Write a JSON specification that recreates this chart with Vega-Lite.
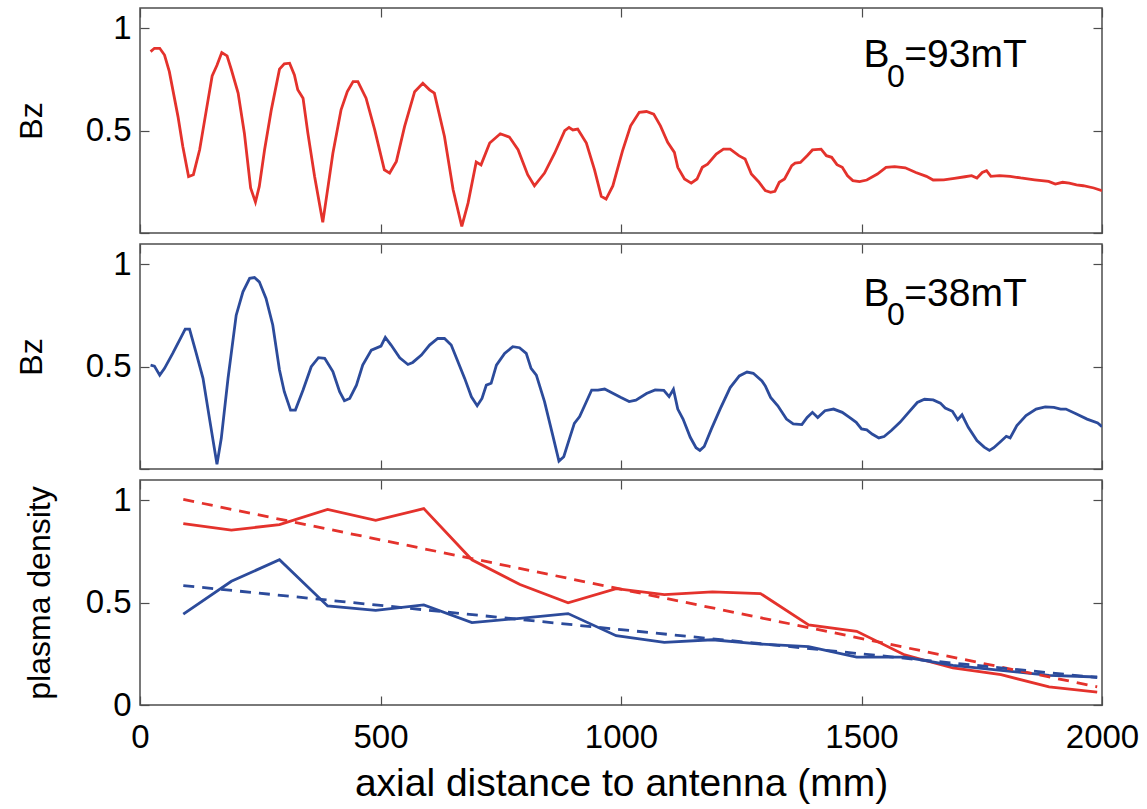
{
  "$schema": "https://vega.github.io/schema/vega-lite/v6.json",
  "background": "white",
  "padding": {"left": 14, "top": 6, "right": 0, "bottom": 0},
  "config": {
    "font": "Liberation Sans",
    "view": {"stroke": "#4d4d4d", "strokeWidth": 1.5},
    "axis": {
      "domain": false,
      "grid": false,
      "tickSize": -9,
      "tickColor": "#4d4d4d",
      "tickWidth": 1.2,
      "labelFont": "Liberation Sans",
      "labelFontSize": 33,
      "labelColor": "#000000",
      "labelPadding": 18,
      "labelFlush": false,
      "labelOverlap": false,
      "titleFont": "Liberation Sans",
      "titleFontWeight": "normal",
      "titleColor": "#000000"
    }
  },
  "datasets": {
    "b93": [
      {"x":22,"v":0.887},{"x":30,"v":0.903},{"x":41,"v":0.903},{"x":51,"v":0.87},{"x":61,"v":0.789},{"x":79,"v":0.569},{"x":89,"v":0.423},{"x":101,"v":0.276},{"x":111,"v":0.285},{"x":124,"v":0.407},{"x":138,"v":0.602},{"x":150,"v":0.768},{"x":160,"v":0.82},{"x":170,"v":0.882},{"x":181,"v":0.866},{"x":190,"v":0.798},{"x":204,"v":0.684},{"x":217,"v":0.488},{"x":230,"v":0.22},{"x":240,"v":0.151},{"x":248,"v":0.228},{"x":259,"v":0.407},{"x":273,"v":0.602},{"x":290,"v":0.801},{"x":300,"v":0.827},{"x":311,"v":0.83},{"x":321,"v":0.773},{"x":328,"v":0.7},{"x":339,"v":0.659},{"x":349,"v":0.488},{"x":363,"v":0.276},{"x":380,"v":0.052},{"x":391,"v":0.228},{"x":401,"v":0.39},{"x":418,"v":0.602},{"x":431,"v":0.691},{"x":443,"v":0.74},{"x":453,"v":0.74},{"x":470,"v":0.659},{"x":488,"v":0.504},{"x":508,"v":0.309},{"x":519,"v":0.293},{"x":533,"v":0.35},{"x":550,"v":0.52},{"x":571,"v":0.691},{"x":588,"v":0.732},{"x":602,"v":0.7},{"x":612,"v":0.684},{"x":633,"v":0.472},{"x":651,"v":0.211},{"x":669,"v":0.032},{"x":682,"v":0.146},{"x":699,"v":0.347},{"x":709,"v":0.333},{"x":727,"v":0.44},{"x":749,"v":0.485},{"x":768,"v":0.469},{"x":786,"v":0.407},{"x":806,"v":0.285},{"x":820,"v":0.231},{"x":841,"v":0.293},{"x":862,"v":0.39},{"x":883,"v":0.5},{"x":892,"v":0.516},{"x":900,"v":0.504},{"x":910,"v":0.508},{"x":928,"v":0.44},{"x":945,"v":0.309},{"x":959,"v":0.179},{"x":969,"v":0.166},{"x":983,"v":0.23},{"x":1003,"v":0.4},{"x":1020,"v":0.524},{"x":1038,"v":0.59},{"x":1053,"v":0.594},{"x":1068,"v":0.581},{"x":1082,"v":0.524},{"x":1097,"v":0.443},{"x":1111,"v":0.394},{"x":1118,"v":0.321},{"x":1132,"v":0.264},{"x":1146,"v":0.244},{"x":1158,"v":0.264},{"x":1169,"v":0.321},{"x":1180,"v":0.337},{"x":1198,"v":0.386},{"x":1213,"v":0.41},{"x":1227,"v":0.41},{"x":1245,"v":0.378},{"x":1258,"v":0.362},{"x":1271,"v":0.288},{"x":1286,"v":0.251},{"x":1300,"v":0.207},{"x":1311,"v":0.199},{"x":1320,"v":0.204},{"x":1329,"v":0.248},{"x":1340,"v":0.264},{"x":1355,"v":0.329},{"x":1362,"v":0.342},{"x":1373,"v":0.345},{"x":1387,"v":0.378},{"x":1398,"v":0.406},{"x":1416,"v":0.41},{"x":1427,"v":0.378},{"x":1438,"v":0.37},{"x":1449,"v":0.334},{"x":1460,"v":0.321},{"x":1471,"v":0.28},{"x":1482,"v":0.256},{"x":1496,"v":0.251},{"x":1511,"v":0.259},{"x":1533,"v":0.288},{"x":1551,"v":0.321},{"x":1569,"v":0.324},{"x":1591,"v":0.319},{"x":1613,"v":0.296},{"x":1635,"v":0.277},{"x":1649,"v":0.259},{"x":1671,"v":0.26},{"x":1693,"v":0.267},{"x":1715,"v":0.275},{"x":1729,"v":0.28},{"x":1740,"v":0.269},{"x":1751,"v":0.296},{"x":1760,"v":0.305},{"x":1769,"v":0.277},{"x":1787,"v":0.28},{"x":1809,"v":0.277},{"x":1831,"v":0.269},{"x":1860,"v":0.26},{"x":1889,"v":0.252},{"x":1903,"v":0.239},{"x":1918,"v":0.248},{"x":1932,"v":0.244},{"x":1947,"v":0.235},{"x":1961,"v":0.231},{"x":1983,"v":0.22},{"x":2000,"v":0.207}
    ],
    "b38": [
      {"x":22,"v":0.508},{"x":30,"v":0.503},{"x":41,"v":0.459},{"x":51,"v":0.492},{"x":68,"v":0.565},{"x":86,"v":0.647},{"x":94,"v":0.684},{"x":103,"v":0.684},{"x":117,"v":0.565},{"x":131,"v":0.443},{"x":145,"v":0.239},{"x":160,"v":0.023},{"x":169,"v":0.15},{"x":183,"v":0.443},{"x":200,"v":0.752},{"x":214,"v":0.866},{"x":228,"v":0.932},{"x":238,"v":0.936},{"x":248,"v":0.915},{"x":262,"v":0.834},{"x":276,"v":0.704},{"x":290,"v":0.484},{"x":300,"v":0.378},{"x":313,"v":0.288},{"x":323,"v":0.288},{"x":339,"v":0.386},{"x":356,"v":0.5},{"x":371,"v":0.544},{"x":384,"v":0.541},{"x":401,"v":0.476},{"x":415,"v":0.378},{"x":425,"v":0.334},{"x":436,"v":0.345},{"x":450,"v":0.41},{"x":463,"v":0.508},{"x":481,"v":0.581},{"x":501,"v":0.601},{"x":510,"v":0.643},{"x":522,"v":0.606},{"x":540,"v":0.544},{"x":557,"v":0.511},{"x":567,"v":0.521},{"x":585,"v":0.557},{"x":602,"v":0.606},{"x":619,"v":0.638},{"x":633,"v":0.638},{"x":647,"v":0.606},{"x":661,"v":0.524},{"x":675,"v":0.443},{"x":689,"v":0.353},{"x":701,"v":0.309},{"x":711,"v":0.345},{"x":720,"v":0.41},{"x":730,"v":0.419},{"x":741,"v":0.508},{"x":758,"v":0.565},{"x":775,"v":0.598},{"x":789,"v":0.593},{"x":803,"v":0.565},{"x":813,"v":0.492},{"x":824,"v":0.459},{"x":841,"v":0.329},{"x":858,"v":0.166},{"x":871,"v":0.039},{"x":881,"v":0.06},{"x":893,"v":0.15},{"x":903,"v":0.223},{"x":914,"v":0.256},{"x":928,"v":0.329},{"x":939,"v":0.386},{"x":952,"v":0.386},{"x":966,"v":0.391},{"x":983,"v":0.37},{"x":1000,"v":0.349},{"x":1017,"v":0.33},{"x":1031,"v":0.337},{"x":1053,"v":0.369},{"x":1071,"v":0.387},{"x":1089,"v":0.385},{"x":1100,"v":0.354},{"x":1109,"v":0.39},{"x":1118,"v":0.293},{"x":1129,"v":0.244},{"x":1144,"v":0.155},{"x":1156,"v":0.104},{"x":1164,"v":0.091},{"x":1173,"v":0.11},{"x":1188,"v":0.196},{"x":1206,"v":0.293},{"x":1227,"v":0.398},{"x":1246,"v":0.455},{"x":1262,"v":0.474},{"x":1275,"v":0.468},{"x":1293,"v":0.43},{"x":1300,"v":0.406},{"x":1311,"v":0.35},{"x":1326,"v":0.309},{"x":1344,"v":0.244},{"x":1358,"v":0.22},{"x":1376,"v":0.217},{"x":1387,"v":0.252},{"x":1398,"v":0.277},{"x":1409,"v":0.252},{"x":1424,"v":0.285},{"x":1442,"v":0.293},{"x":1460,"v":0.277},{"x":1475,"v":0.252},{"x":1489,"v":0.228},{"x":1500,"v":0.196},{"x":1511,"v":0.191},{"x":1522,"v":0.171},{"x":1536,"v":0.152},{"x":1547,"v":0.159},{"x":1562,"v":0.188},{"x":1580,"v":0.228},{"x":1598,"v":0.277},{"x":1616,"v":0.325},{"x":1631,"v":0.341},{"x":1649,"v":0.338},{"x":1664,"v":0.322},{"x":1674,"v":0.298},{"x":1689,"v":0.282},{"x":1700,"v":0.241},{"x":1709,"v":0.265},{"x":1722,"v":0.204},{"x":1740,"v":0.139},{"x":1755,"v":0.107},{"x":1766,"v":0.091},{"x":1775,"v":0.104},{"x":1790,"v":0.136},{"x":1801,"v":0.16},{"x":1809,"v":0.152},{"x":1823,"v":0.212},{"x":1842,"v":0.261},{"x":1863,"v":0.293},{"x":1882,"v":0.304},{"x":1900,"v":0.301},{"x":1914,"v":0.293},{"x":1925,"v":0.293},{"x":1947,"v":0.269},{"x":1969,"v":0.244},{"x":1991,"v":0.225},{"x":2000,"v":0.207}
    ],
    "dens": [
      {"x":90,"v":0.887,"s":"93mT"},{"x":190,"v":0.855,"s":"93mT"},{"x":290,"v":0.882,"s":"93mT"},{"x":390,"v":0.956,"s":"93mT"},{"x":490,"v":0.903,"s":"93mT"},{"x":590,"v":0.96,"s":"93mT"},{"x":690,"v":0.71,"s":"93mT"},{"x":790,"v":0.589,"s":"93mT"},{"x":890,"v":0.5,"s":"93mT"},{"x":990,"v":0.569,"s":"93mT"},{"x":1090,"v":0.54,"s":"93mT"},{"x":1190,"v":0.553,"s":"93mT"},{"x":1290,"v":0.545,"s":"93mT"},{"x":1390,"v":0.392,"s":"93mT"},{"x":1490,"v":0.36,"s":"93mT"},{"x":1590,"v":0.245,"s":"93mT"},{"x":1690,"v":0.181,"s":"93mT"},{"x":1790,"v":0.148,"s":"93mT"},{"x":1890,"v":0.089,"s":"93mT"},{"x":1990,"v":0.063,"s":"93mT"},
      {"x":90,"v":0.444,"s":"38mT"},{"x":190,"v":0.605,"s":"38mT"},{"x":290,"v":0.71,"s":"38mT"},{"x":390,"v":0.484,"s":"38mT"},{"x":490,"v":0.463,"s":"38mT"},{"x":590,"v":0.489,"s":"38mT"},{"x":690,"v":0.403,"s":"38mT"},{"x":790,"v":0.424,"s":"38mT"},{"x":890,"v":0.447,"s":"38mT"},{"x":990,"v":0.339,"s":"38mT"},{"x":1090,"v":0.306,"s":"38mT"},{"x":1190,"v":0.319,"s":"38mT"},{"x":1290,"v":0.298,"s":"38mT"},{"x":1390,"v":0.285,"s":"38mT"},{"x":1490,"v":0.234,"s":"38mT"},{"x":1590,"v":0.234,"s":"38mT"},{"x":1690,"v":0.194,"s":"38mT"},{"x":1790,"v":0.169,"s":"38mT"},{"x":1890,"v":0.145,"s":"38mT"},{"x":1990,"v":0.137,"s":"38mT"}
    ],
    "fit": [
      {"x":90,"v":1.005,"s":"93mT"},{"x":1990,"v":0.089,"s":"93mT"},
      {"x":90,"v":0.584,"s":"38mT"},{"x":1990,"v":0.134,"s":"38mT"}
    ],
    "lab93": [{"x":1504,"v":0.81,"t":"B"},{"x":1589,"v":0.81,"t":"=93mT"}],
    "sub93": [{"x":1553,"v":0.716,"t":"0"}],
    "lab38": [{"x":1504,"v":0.795,"t":"B"},{"x":1589,"v":0.795,"t":"=38mT"}],
    "sub38": [{"x":1553,"v":0.702,"t":"0"}]
  },
  "vconcat": [
    {
      "width": 962,
      "height": 225,
      "layer": [
        {
          "data": {"name": "b93"},
          "mark": {"type": "line", "color": "#e4322c", "strokeWidth": 2.8, "clip": true},
          "encoding": {
            "x": {"field": "x", "type": "quantitative", "scale": {"domain": [0, 2000], "nice": false, "zero": false},
                  "axis": {"orient": "bottom", "values": [0, 500, 1000, 1500, 2000], "labels": false, "title": null}},
            "y": {"field": "v", "type": "quantitative", "scale": {"domain": [0, 1.1], "nice": false},
                  "axis": {"orient": "left", "values": [0, 0.5, 1], "labelExpr": "datum.value == 0 ? '' : format(datum.value, '~g')", "title": "Bz", "titleFontSize": 32, "titlePadding": 37}}
          }
        },
        {
          "data": {"name": "lab93"},
          "mark": {"type": "text", "align": "left", "baseline": "alphabetic", "fontSize": 39, "color": "#000000"},
          "encoding": {
            "x": {"field": "x", "type": "quantitative", "axis": {"orient": "top", "values": [0, 500, 1000, 1500, 2000], "labels": false, "title": null}},
            "y": {"field": "v", "type": "quantitative", "axis": {"orient": "right", "values": [0, 0.5, 1], "labels": false, "title": null}},
            "text": {"field": "t"}
          }
        },
        {
          "data": {"name": "sub93"},
          "mark": {"type": "text", "align": "left", "baseline": "alphabetic", "fontSize": 32, "color": "#000000"},
          "encoding": {
            "x": {"field": "x", "type": "quantitative", "axis": null},
            "y": {"field": "v", "type": "quantitative", "axis": null},
            "text": {"field": "t"}
          }
        }
      ],
      "resolve": {"axis": {"x": "independent", "y": "independent"}}
    },
    {
      "width": 962,
      "height": 225,
      "layer": [
        {
          "data": {"name": "b38"},
          "mark": {"type": "line", "color": "#2c4b9b", "strokeWidth": 2.8, "clip": true},
          "encoding": {
            "x": {"field": "x", "type": "quantitative", "scale": {"domain": [0, 2000], "nice": false, "zero": false},
                  "axis": {"orient": "bottom", "values": [0, 500, 1000, 1500, 2000], "labels": false, "title": null}},
            "y": {"field": "v", "type": "quantitative", "scale": {"domain": [0, 1.1], "nice": false},
                  "axis": {"orient": "left", "values": [0, 0.5, 1], "labelExpr": "datum.value == 0 ? '' : format(datum.value, '~g')", "title": "Bz", "titleFontSize": 32, "titlePadding": 37}}
          }
        },
        {
          "data": {"name": "lab38"},
          "mark": {"type": "text", "align": "left", "baseline": "alphabetic", "fontSize": 39, "color": "#000000"},
          "encoding": {
            "x": {"field": "x", "type": "quantitative", "axis": {"orient": "top", "values": [0, 500, 1000, 1500, 2000], "labels": false, "title": null}},
            "y": {"field": "v", "type": "quantitative", "axis": {"orient": "right", "values": [0, 0.5, 1], "labels": false, "title": null}},
            "text": {"field": "t"}
          }
        },
        {
          "data": {"name": "sub38"},
          "mark": {"type": "text", "align": "left", "baseline": "alphabetic", "fontSize": 32, "color": "#000000"},
          "encoding": {
            "x": {"field": "x", "type": "quantitative", "axis": null},
            "y": {"field": "v", "type": "quantitative", "axis": null},
            "text": {"field": "t"}
          }
        }
      ],
      "resolve": {"axis": {"x": "independent", "y": "independent"}}
    },
    {
      "width": 962,
      "height": 225,
      "layer": [
        {
          "data": {"name": "dens"},
          "mark": {"type": "line", "strokeWidth": 2.8, "clip": true},
          "encoding": {
            "x": {"field": "x", "type": "quantitative", "scale": {"domain": [0, 2000], "nice": false, "zero": false},
                  "axis": {"orient": "bottom", "values": [0, 500, 1000, 1500, 2000], "format": "d", "labelPadding": 25, "title": "axial distance to antenna (mm)", "titleFontSize": 39, "titlePadding": 10}},
            "y": {"field": "v", "type": "quantitative", "scale": {"domain": [0, 1.1], "nice": false},
                  "axis": {"orient": "left", "values": [0, 0.5, 1], "format": "~g", "title": "plasma density", "titleFontSize": 32, "titlePadding": 29}},
            "color": {"field": "s", "type": "nominal", "scale": {"domain": ["93mT", "38mT"], "range": ["#e4322c", "#2c4b9b"]}, "legend": null}
          }
        },
        {
          "data": {"name": "fit"},
          "mark": {"type": "line", "strokeWidth": 2.8, "strokeDash": [11, 8], "clip": true},
          "encoding": {
            "x": {"field": "x", "type": "quantitative", "axis": {"orient": "top", "values": [0, 500, 1000, 1500, 2000], "labels": false, "title": null}},
            "y": {"field": "v", "type": "quantitative", "axis": {"orient": "right", "values": [0, 0.5, 1], "labels": false, "title": null}},
            "color": {"field": "s", "type": "nominal", "legend": null}
          }
        }
      ],
      "resolve": {"axis": {"x": "independent", "y": "independent"}}
    }
  ],
  "spacing": 11,
  "bounds": "flush"
}
